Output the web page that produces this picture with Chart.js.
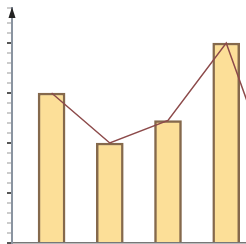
<!DOCTYPE html>
<html>
<head>
<meta charset="utf-8">
<script src="https://cdn.jsdelivr.net/npm/chart.js@4"></script>
<style>
  body { margin: 0; background: #fff; overflow: hidden; }
  #wrap { width: 246px; height: 244px; }
</style>
</head>
<body>
<div id="wrap"><canvas id="chart"></canvas></div>
<script>
/* Category positions and values. */
const positions = [1, 2, 3, 4]
const barValues = [3, 2, 2.45, 4]
const linePositions = [1, 2, 3, 4, 5]
const lineValues = [3, 2, 2.45, 4, 0.75]

/* Build point lists for the library. */
const barPoints = positions.map((x, i) => ({ x, y: barValues[i] }))
const linePoints = linePositions.map((x, i) => ({ x, y: lineValues[i] }))

/* Plugin that draws the arrow head on top of the y axis. */
const axisArrow = {
  id: "axisArrow",
  afterDraw(chart) {
    const ctx = chart.ctx
    const x = chart.scales.y.right
    const top = chart.chartArea.top
    ctx.save()
    ctx.fillStyle = "#222"
    ctx.beginPath()
    ctx.moveTo(x, top - 1)
    ctx.lineTo(x - 3.5, top + 10)
    ctx.lineTo(x + 3.5, top + 10)
    ctx.closePath()
    ctx.fill()
    ctx.restore()
  }
}

const ctx = document.getElementById("chart").getContext("2d")
const chart = new Chart(ctx, {
  type: "bar",
  data: {
    datasets: [{
      type: "line",
      data: linePoints,
      borderColor: "#8c4a4a",
      borderWidth: 1.5,
      pointRadius: 0,
      tension: 0,
      order: 0
    }, {
      data: barPoints,
      backgroundColor: "#fcdf98",
      borderColor: "#85694c",
      borderWidth: 2.5,
      borderSkipped: "bottom",
      barThickness: 27,
      order: 1
    }]
  },
  options: {
    responsive: true,
    maintainAspectRatio: false,
    animation: false,
    layout: {
      padding: { left: 7, top: 8, right: 0, bottom: -7 }
    },
    scales: {
      x: {
        type: "linear",
        offset: false,
        min: 0.32,
        max: 4.34,
        ticks: { display: false, padding: 0 },
        grid: { display: false },
        border: { display: true, color: "#777", width: 1.5 }
      },
      y: {
        min: 0,
        max: 4.7,
        ticks: { display: false, stepSize: 0.2 },
        grid: {
          drawOnChartArea: false,
          drawTicks: true,
          tickLength: 5,
          lineWidth: 2,
          color: c => Math.abs(c.tick.value - Math.round(c.tick.value)) < 1e-6 ? "#555" : "#ccc"
        },
        border: { color: "#8a94a0", width: 2 }
      }
    },
    plugins: {
      legend: { display: false },
      tooltip: { enabled: false }
    }
  },
  plugins: [axisArrow]
})
</script>
</body>
</html>
